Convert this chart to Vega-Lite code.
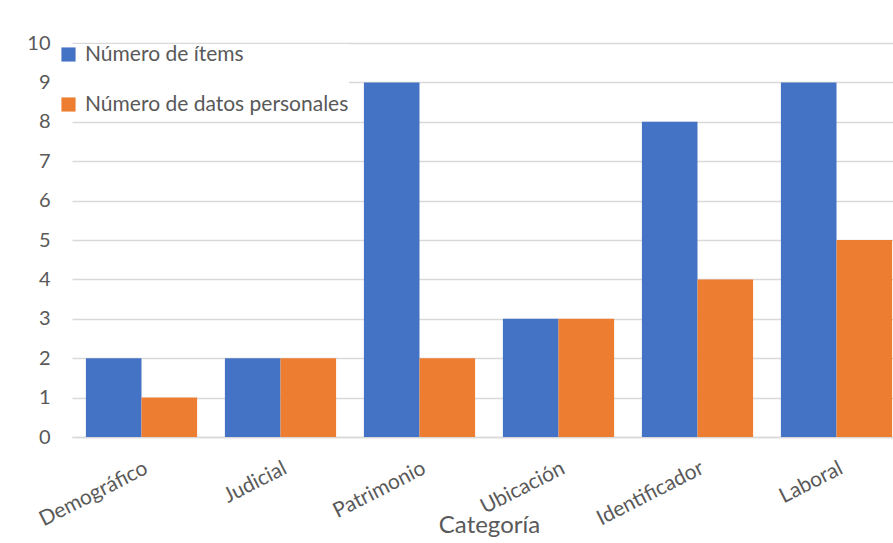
{
  "$schema": "https://vega.github.io/schema/vega-lite/v6.json",
  "width": 821,
  "height": 394,
  "autosize": {"type": "none"},
  "padding": {"left": 72, "top": 43, "right": 0, "bottom": 106},
  "background": "white",
  "config": {
    "view": {"stroke": null},
    "font": "Lato",
    "axis": {"labelColor": "#595959", "titleColor": "#595959", "labelFont": "Lato", "titleFont": "Lato"}
  },
  "data": {
    "values": [
      {"categoria": "Demográfico", "serie": "Número de ítems", "valor": 2},
      {"categoria": "Demográfico", "serie": "Número de datos personales", "valor": 1},
      {"categoria": "Judicial", "serie": "Número de ítems", "valor": 2},
      {"categoria": "Judicial", "serie": "Número de datos personales", "valor": 2},
      {"categoria": "Patrimonio", "serie": "Número de ítems", "valor": 9},
      {"categoria": "Patrimonio", "serie": "Número de datos personales", "valor": 2},
      {"categoria": "Ubicación", "serie": "Número de ítems", "valor": 3},
      {"categoria": "Ubicación", "serie": "Número de datos personales", "valor": 3},
      {"categoria": "Identificador", "serie": "Número de ítems", "valor": 8},
      {"categoria": "Identificador", "serie": "Número de datos personales", "valor": 4},
      {"categoria": "Laboral", "serie": "Número de ítems", "valor": 9},
      {"categoria": "Laboral", "serie": "Número de datos personales", "valor": 5}
    ]
  },
  "mark": {"type": "bar", "clip": true},
  "encoding": {
    "x": {
      "field": "categoria",
      "type": "nominal",
      "sort": null,
      "scale": {"range": [0, 834], "paddingInner": 0.2, "paddingOuter": 0.1},
      "axis": {
        "title": "Categoría",
        "titleFontSize": 24,
        "titleFontWeight": "normal",
        "titleY": 76,
        "titleBaseline": "top",
        "labelAngle": -27,
        "labelFontSize": 21,
        "labelPadding": 20,
        "labelLimit": 300,
        "labelOverlap": false,
        "ticks": false,
        "domainColor": "#D9D9D9",
        "domainWidth": 1.5
      }
    },
    "xOffset": {
      "field": "serie",
      "type": "nominal",
      "sort": ["Número de ítems", "Número de datos personales"],
      "scale": {"paddingInner": 0, "paddingOuter": 0}
    },
    "y": {
      "field": "valor",
      "type": "quantitative",
      "scale": {"domain": [0, 10]},
      "axis": {
        "title": null,
        "values": [0,1,2,3,4,5,6,7,8,9,10],
        "labelOverlap": false,
        "labelFontSize": 20,
        "labelPadding": 22,
        "ticks": false,
        "domain": false,
        "gridColor": "#D9D9D9",
        "gridWidth": 1.5
      }
    },
    "color": {
      "field": "serie",
      "type": "nominal",
      "sort": ["Número de ítems", "Número de datos personales"],
      "scale": {"range": ["#4472C4", "#ED7D31"]},
      "legend": {
        "title": null,
        "orient": "none",
        "legendX": -14,
        "legendY": 1,
        "symbolType": "square",
        "symbolSize": 200,
        "symbolOpacity": 1,
        "symbolStrokeWidth": 0,
        "labelFontSize": 21,
        "labelLimit": 500,
        "labelColor": "#595959",
        "labelFont": "Lato",
        "rowPadding": 28,
        "labelOffset": 6,
        "fillColor": "white"
      }
    }
  }
}
